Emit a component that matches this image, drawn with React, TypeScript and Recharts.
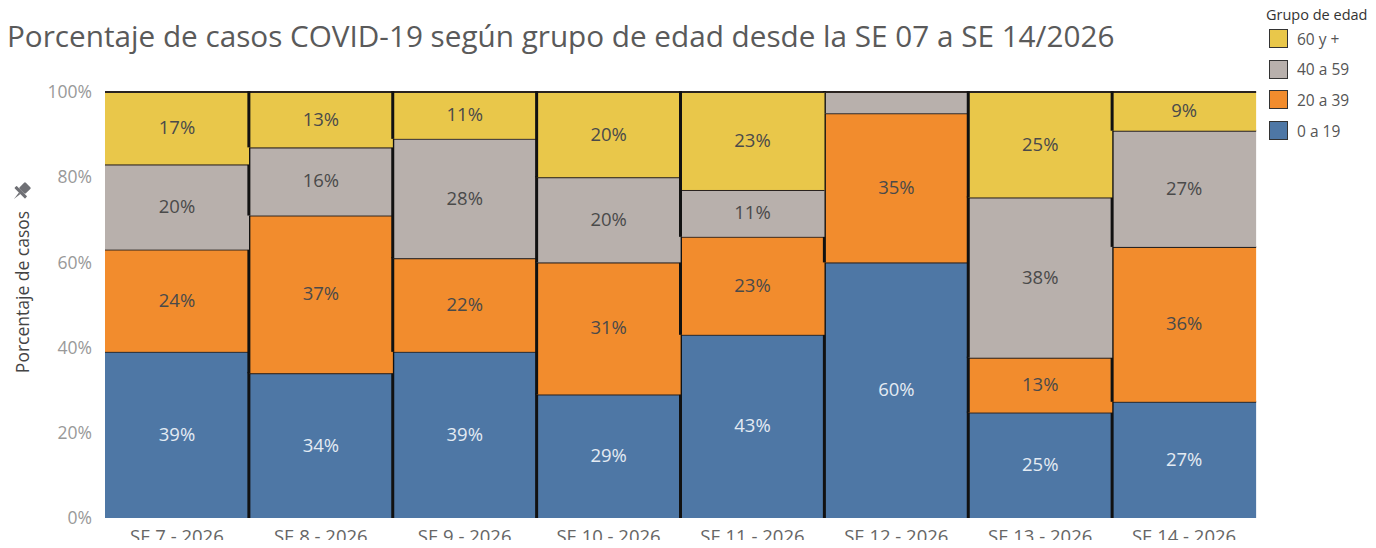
import React from 'react';
import { BarChart, Bar, XAxis, YAxis, LabelList } from 'recharts';

const weeks = ['SE 7 - 2026', 'SE 8 - 2026', 'SE 9 - 2026', 'SE 10 - 2026', 'SE 11 - 2026', 'SE 12 - 2026', 'SE 13 - 2026', 'SE 14 - 2026'];
const age0to19 = [39, 34, 39, 29, 43, 60, 25, 27];
const age20to39 = [24, 37, 22, 31, 23, 35, 13, 36];
const age40to59 = [20, 16, 28, 20, 11, 5, 38, 27];
const age60plus = [17, 13, 11, 20, 23, 0, 25, 9];
const yTicks = [0, 0.2, 0.4, 0.6, 0.8, 1];

const series = [
  { key: 'a0', name: '0 a 19', color: '#4e77a5', text: '#e4ebf3' },
  { key: 'a20', name: '20 a 39', color: '#f28c2d', text: '#4a4a4a' },
  { key: 'a40', name: '40 a 59', color: '#b8b0ac', text: '#4a4a4a' },
  { key: 'a60', name: '60 y +', color: '#e9c74a', text: '#4a4a4a' },
];

const data = weeks.map((w, i) => ({
  week: w,
  a0: age0to19[i],
  a20: age20to39[i],
  a40: age40to59[i],
  a60: age60plus[i],
}));

const FONT = '"Open Sans", sans-serif';
const PLOT_LEFT = 97;

// fill plus the top edge and the left separator, like tableau's borders
const Segment = (props: any) => {
  const { x, y, width, height, fill } = props;
  if (width == null) return null;
  return (
    <g>
      <rect x={x} y={y} width={width} height={Math.max(height, 0)} fill={fill} />
      <line x1={x} x2={x + width} y1={y} y2={y} stroke="#2a2320" strokeWidth={2} />
      {x > PLOT_LEFT + 2 && <line x1={x} x2={x} y1={y - 1} y2={y + height} stroke="#111" strokeWidth={3} />}
    </g>
  );
};

const makeLabel = (color: string) => (props: any) => {
  const { x, y, width, height, value } = props;
  if (!value || value < 8) return null;
  return (
    <text x={x + width / 2} y={y + height / 2 + 6} textAnchor="middle" fill={color} fontSize={18.5} fontFamily={FONT}>
      {value}%
    </text>
  );
};

const XTick = (props: any) => {
  const { x, y, payload } = props;
  return (
    <text x={x} y={y + 25} textAnchor="middle" fill="#666" fontSize={18.5} fontFamily={FONT}>
      {payload.value}
    </text>
  );
};

export default function App() {
  return (
    <div style={{ position: 'relative', width: 1360, height: 540, marginBottom: -8, fontFamily: FONT }}>
      <div style={{ position: 'absolute', left: -1, top: 7, fontSize: 29.7, color: '#5a5a5a', whiteSpace: 'nowrap' }}>
        Porcentaje de casos COVID-19 según grupo de edad desde la SE 07 a SE 14/2026
      </div>
      <svg style={{ position: 'absolute', left: 3, top: 174 }} width={20} height={20} viewBox="0 0 16 16">
        <g transform="rotate(45 8 8)" fill="#6f7075">
          <rect x={4.5} y={0} width={7} height={7} rx={1} />
          <rect x={2} y={7} width={12} height={2.5} rx={0.5} />
          <polygon points="7.2,9.5 8.8,9.5 8,16" />
        </g>
      </svg>
      <div
        style={{
          position: 'absolute', left: 14, top: 284, fontSize: 17.5, color: '#444',
          transform: 'translate(-50%, -50%) rotate(-90deg)', whiteSpace: 'nowrap',
        }}
      >
        Porcentaje de casos
      </div>
      <div style={{ position: 'absolute', left: 1258, top: -3, fontSize: 14.5, color: '#333', whiteSpace: 'nowrap' }}>
        Grupo de edad
      </div>
      {[...series].reverse().map((s, i) => (
        <div key={s.key} style={{ position: 'absolute', left: 1261, top: 21 + i * 30.7, height: 19, display: 'flex', alignItems: 'center' }}>
          <div style={{ width: 19, height: 19, background: s.color, border: '1px solid #333', boxSizing: 'border-box' }} />
          <span style={{ marginLeft: 9, fontSize: 15.5, color: '#555', whiteSpace: 'nowrap' }}>{s.name}</span>
        </div>
      ))}
      <BarChart
        width={1360}
        height={540}
        data={data}
        stackOffset="expand"
        barCategoryGap={0}
        margin={{ top: 84, right: 112, bottom: 0, left: 0 }}
      >
        <XAxis dataKey="week" height={30} axisLine={false} tickLine={false} tickSize={0} tickMargin={0} tick={<XTick />} interval={0} />
        <YAxis
          width={PLOT_LEFT}
          ticks={yTicks}
          domain={[0, 1]}
          axisLine={false}
          tickLine={false}
          tickSize={0}
          tickMargin={13}
          tickFormatter={(v: number) => `${Math.round(v * 100)}%`}
          tick={{ fill: '#999', fontSize: 17.5, fontFamily: FONT }}
        />
        {series.map((s) => (
          <Bar key={s.key} dataKey={s.key} name={s.name} stackId="a" fill={s.color} shape={<Segment />} isAnimationActive={false}>
            <LabelList dataKey={s.key} content={makeLabel(s.text)} />
          </Bar>
        ))}
      </BarChart>
    </div>
  );
}
